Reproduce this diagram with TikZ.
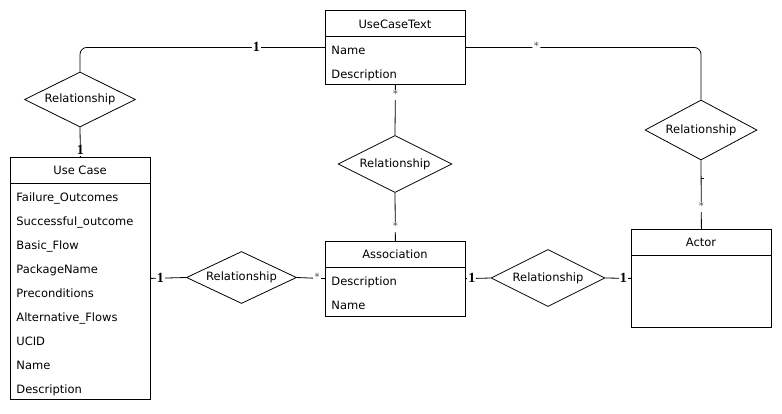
\documentclass[tikz,border=0pt]{standalone}
\usepackage{fontspec}
\setmainfont{DejaVu Sans}
\newfontfamily\cardfont{Liberation Serif}
\usetikzlibrary{shapes.geometric}
\begin{document}
\begin{tikzpicture}[x=1pt,y=-1pt,
  font=\fontsize{11.5}{13}\selectfont,
  line width=0.8pt,
  entity/.style={draw, inner sep=0pt, anchor=north west},
  rel/.style={draw, diamond, shape aspect=2, inner sep=0pt,
              minimum width=112, minimum height=56},
  title/.style={inner sep=0pt, text height=10.5pt, text depth=2pt},
  attr/.style={inner sep=0pt, anchor=west, text height=10.5pt, text depth=2pt},
  one/.style={fill=white, inner sep=1pt, text height=9pt, text depth=0pt,
              font=\cardfont\bfseries\fontsize{14}{14}\selectfont},
  many/.style={fill=white, inner sep=1.5pt, text=black!70,
               text height=6pt, text depth=1pt,
               font=\fontsize{10}{10}\selectfont}]
\useasboundingbox (0,0) rectangle (782,413);

% ---- entities ----
\node[entity, minimum width=140, minimum height=74] (uct) at (325,10) {};
\draw (uct.west |- 0,36) -- (uct.east |- 0,36);
\node[title] (uctT) at (395,24) {UseCaseText};
\node[attr] (uct1) at (331,50.5) {Name};
\node[attr] (uct2) at (331,74) {Description};

\node[entity, minimum width=140, minimum height=242] (uc) at (10,157) {};
\draw (uc.west |- 0,183) -- (uc.east |- 0,183);
\node[title] (ucT) at (80,170.5) {Use Case};
\node[attr] (uc1) at (16,197.5) {Failure\_Outcomes};
\node[attr] (uc2) at (16,221.5) {Successful\_outcome};
\node[attr] (uc3) at (16,245.5) {Basic\_Flow};
\node[attr] (uc4) at (16,269.5) {PackageName};
\node[attr] (uc5) at (16,293.5) {Preconditions};
\node[attr] (uc6) at (16,317.5) {Alternative\_Flows};
\node[attr] (uc7) at (16,341.5) {UCID};
\node[attr] (uc8) at (16,365.5) {Name};
\node[attr] (uc9) at (16,389.5) {Description};

\node[entity, minimum width=140, minimum height=74.5] (as) at (325,241) {};
\draw (as.west |- 0,267) -- (as.east |- 0,267);
\node[title] (asT) at (395,254) {Association};
\node[attr] (as1) at (331,281.5) {Description};
\node[attr] (as2) at (331,305.5) {Name};

\node[entity, minimum width=140, minimum height=98] (ac) at (631,229) {};
\draw (ac.west |- 0,255) -- (ac.east |- 0,255);
\node[title] (acT) at (701,242) {Actor};

% ---- relationships ----
\node[rel, minimum width=111, minimum height=55] (r1) at (80,99.5) {Relationship};
\node[rel, minimum width=110, minimum height=52] (r2) at (241.5,277.5) {Relationship};
\node[rel, minimum width=114, minimum height=57] (r3) at (548,278) {Relationship};
\node[rel, minimum width=112, minimum height=60] (r4) at (701,130) {Relationship};
\node[rel, minimum width=114, minimum height=57] (r5) at (395,164) {Relationship};

% ---- connectors ----
\draw[rounded corners=7] (uct.west) -| (r1.north) node[one, pos=0.14] {1};
\draw (r1.south) -- (uc.north) node[one, pos=0.78] {1};

\draw[rounded corners=7] (uct.east) -| (r4.north) node[many, pos=0.15] {*};
\draw (r4.south) -- (ac.north)
  coordinate[pos=0.26] (tk) node[many, pos=0.68] {*};
\draw (tk) -- ++(2.5,0);

\draw (uct.south) -- (r5.north) node[many, pos=0.21] {*};
\draw (r5.south) -- (as.north) node[many, pos=0.7] {*};

\draw (uc.east) -- (r2.west) node[one, pos=0.27] {1};
\draw (r2.east) -- (as.west) node[many, pos=0.72] {*};

\draw (as.east) -- (r3.west) node[one, pos=0.24] {1};
\draw (r3.east) -- (ac.west) node[one, pos=0.7] {1};
\end{tikzpicture}
\end{document}
